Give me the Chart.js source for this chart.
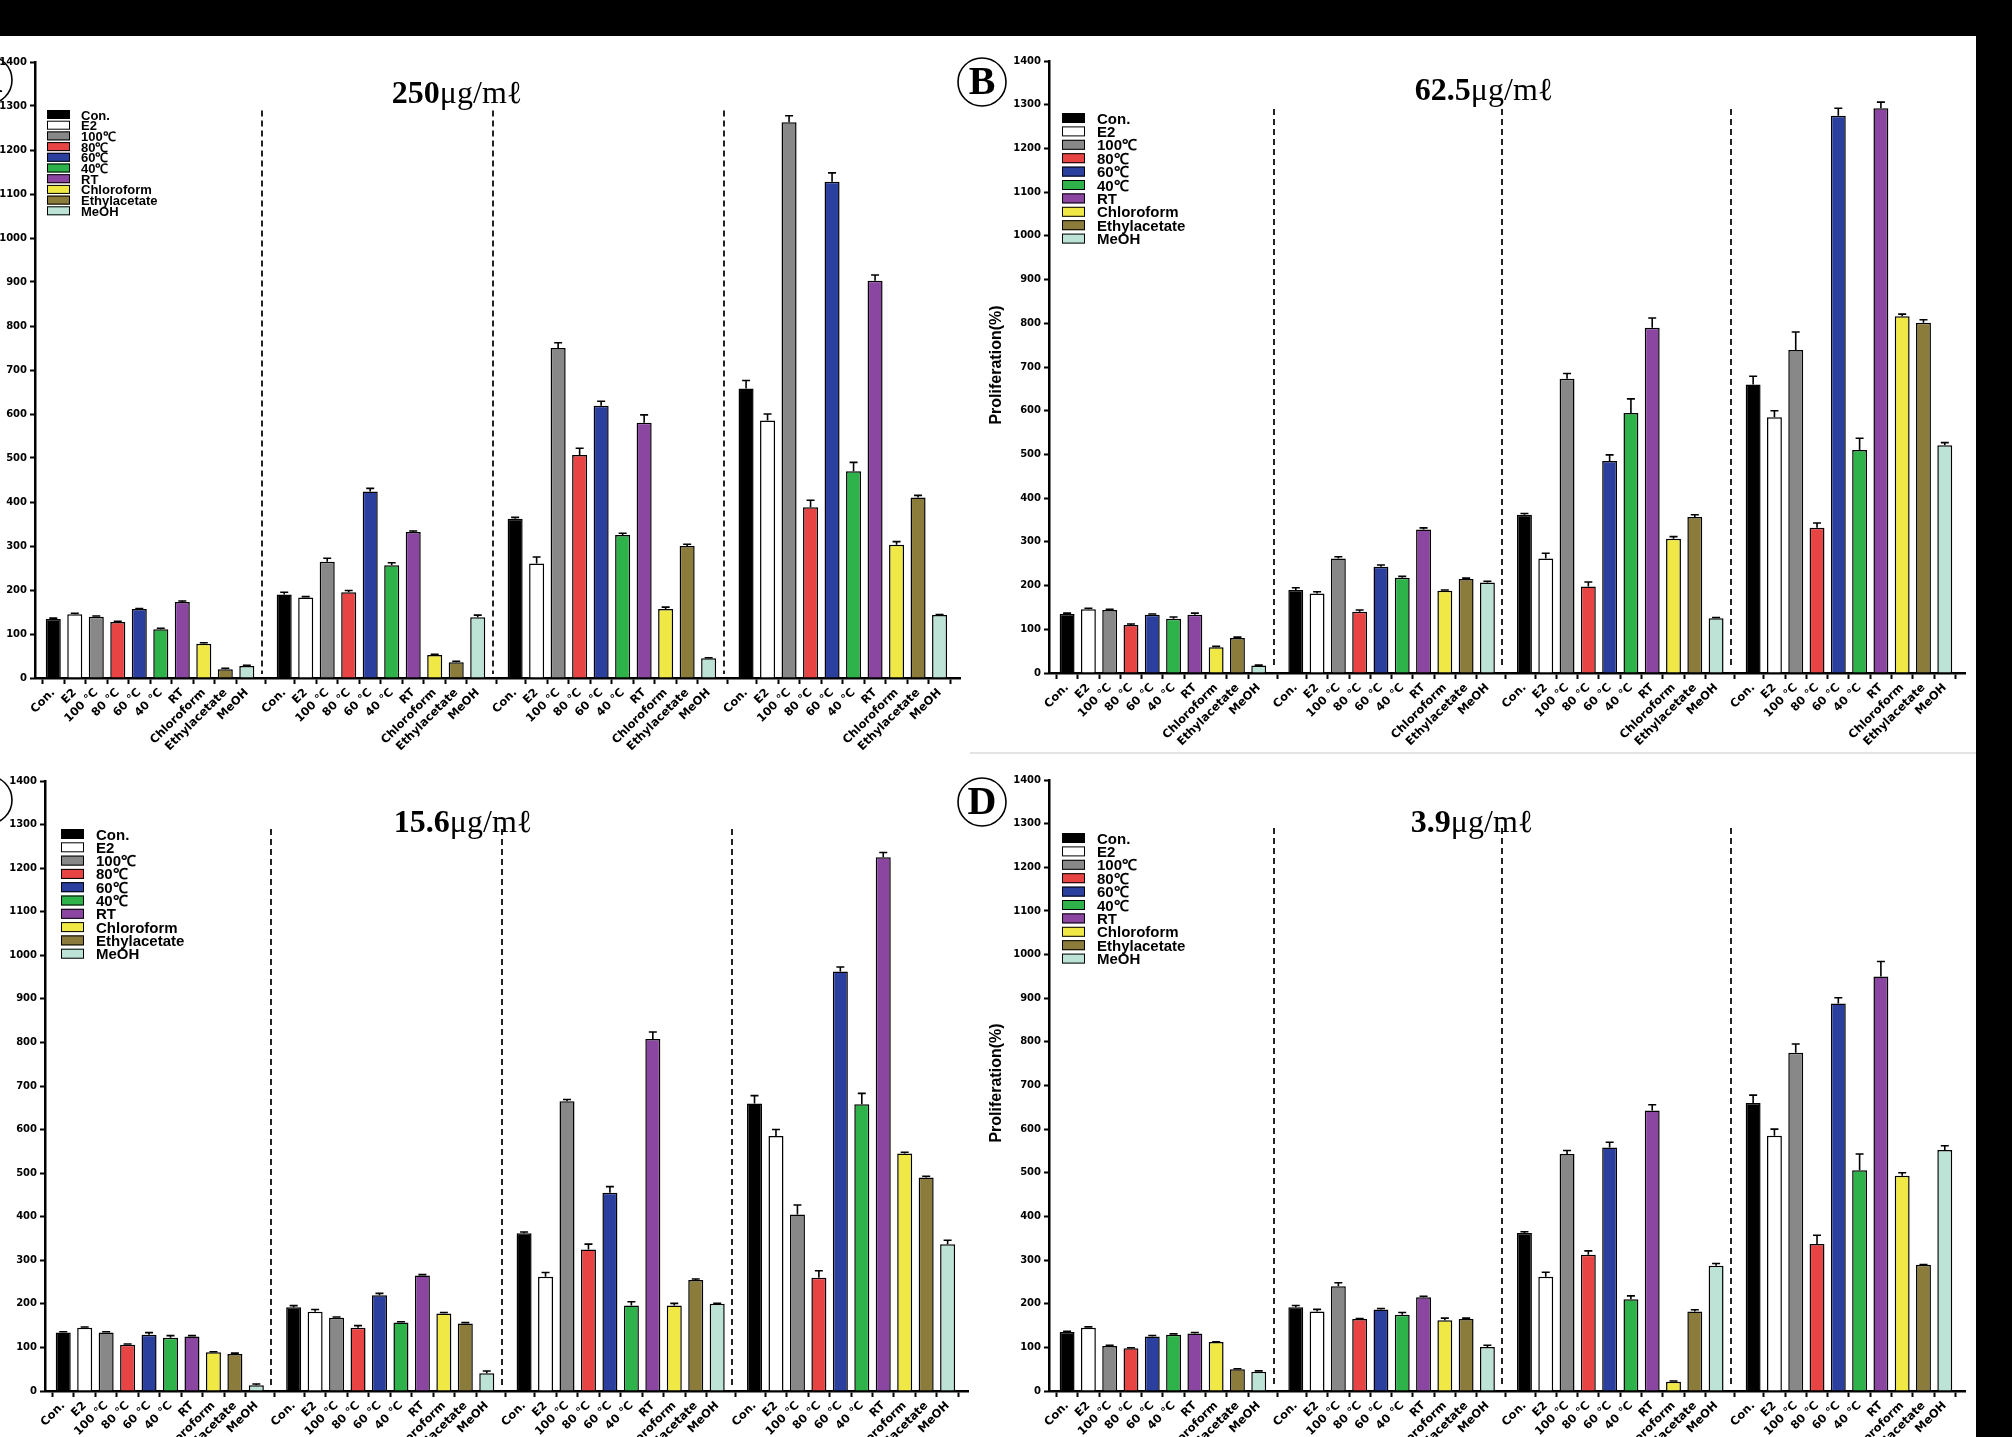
<!DOCTYPE html>
<html>
<head>
<meta charset="utf-8">
<script src="https://cdn.jsdelivr.net/npm/chart.js@4.4.0/dist/chart.umd.min.js"></script>
<style>
    html, body { margin: 0; padding: 0; background: #fff; }
    body { width: 2012px; height: 1437px; position: relative; overflow: hidden; }
    canvas { position: absolute; }
    #topbar { position: absolute; left: 0; top: 0; width: 2012px; height: 36px; background: #000; z-index: 5; }
    #rightbar { position: absolute; left: 1976px; top: 0; width: 36px; height: 1437px; background: #000; z-index: 5; }
    #divider { position: absolute; left: 970px; top: 752px; width: 1006px; height: 2px; background: #e4e4e4; z-index: 4; }
</style>
</head>
<body>
<div id="topbar"></div>
<div id="rightbar"></div>
<div id="divider"></div>
<canvas id="chartA"></canvas>
<canvas id="chartB"></canvas>
<canvas id="chartC"></canvas>
<canvas id="chartD"></canvas>
<script>
const tickLabels = ['Con.', 'E2', '100 ℃', '80 ℃', '60 ℃', '40 ℃', 'RT', 'Chloroform', 'Ethylacetate', 'MeOH'];
const legendLabels = ['Con.', 'E2', '100℃', '80℃', '60℃', '40℃', 'RT', 'Chloroform', 'Ethylacetate', 'MeOH'];
const barColors = ['#000000', '#ffffff', '#888888', '#e84444', '#2b3f9e', '#2eb24a', '#8b46a2', '#f0e845', '#8b7c3b', '#bde3d6'];

// 250 ug/ml
const valuesA = [
    [134, 145, 139, 127, 157, 111, 173, 78, 20, 27],
    [190, 183, 264, 195, 424, 256, 332, 52, 36, 138],
    [362, 260, 750, 507, 619, 325, 580, 157, 300, 45],
    [658, 585, 1263, 388, 1128, 470, 903, 303, 410, 143]
];
const errorsA = [
    [2, 2, 2, 2, 1, 2, 2, 2, 2, 2],
    [5, 2, 8, 4, 7, 6, 2, 2, 2, 5],
    [3, 15, 12, 15, 10, 4, 18, 4, 4, 1],
    [18, 15, 15, 16, 20, 20, 13, 7, 5, 1]
];

// 62.5 ug/ml
const valuesB = [
    [135, 146, 144, 110, 133, 124, 133, 59, 80, 17],
    [190, 182, 262, 140, 243, 218, 328, 188, 215, 207],
    [362, 262, 673, 198, 485, 595, 790, 307, 357, 125],
    [660, 585, 739, 332, 1275, 510, 1292, 816, 801, 521]
];
const errorsB = [
    [2, 2, 2, 2, 2, 4, 4, 2, 2, 1],
    [5, 4, 4, 4, 4, 3, 4, 2, 2, 3],
    [3, 12, 12, 10, 14, 32, 22, 5, 5, 2],
    [19, 15, 41, 11, 17, 27, 14, 5, 7, 6]
];

// 15.6 ug/ml
const valuesC = [
    [134, 145, 134, 106, 129, 122, 125, 89, 85, 13],
    [192, 182, 168, 145, 220, 157, 265, 178, 155, 41],
    [362, 262, 665, 325, 455, 196, 808, 196, 255, 200],
    [660, 585, 405, 260, 963, 658, 1225, 545, 490, 337]
];
const errorsC = [
    [2, 2, 2, 2, 5, 5, 2, 1, 2, 3],
    [4, 5, 2, 5, 4, 2, 2, 2, 2, 5],
    [3, 10, 4, 12, 14, 9, 16, 5, 2, 1],
    [18, 15, 22, 16, 10, 25, 11, 3, 3, 9]
];

// 3.9 ug/ml
const valuesD = [
    [135, 145, 103, 98, 125, 129, 132, 112, 50, 44],
    [192, 182, 240, 165, 187, 175, 215, 162, 165, 101],
    [362, 262, 543, 312, 558, 210, 643, 21, 182, 287],
    [660, 585, 775, 337, 888, 506, 950, 493, 289, 552]
];
const errorsD = [
    [2, 2, 2, 1, 2, 2, 2, 1, 1, 2],
    [4, 5, 8, 1, 2, 5, 2, 5, 2, 4],
    [3, 10, 8, 9, 12, 8, 13, 2, 4, 5],
    [18, 15, 20, 20, 13, 37, 34, 7, 1, 10]
];

const GROUP_GAP = 0.74;
const SEP_OFFSET = 0.7;
const X_MIN = -0.85;
const X_MAX = 39 + 3 * GROUP_GAP + 0.95;
const Y_W = 99, X_H = 80, PAD_TOP = 25, PAD_RIGHT = 11;

const panels = [
    { id: 'chartA', letter: 'A', conc: '250', values: valuesA, errors: errorsA,
      axisX: 35, topY: 62, zeroY: 678, rightX: 960,
      circle: [-12, 80], yTitle: [-17, 370], title: [457, 103],
      legend: { x: 47, y: 110, pitch: 10.7, boxH: 9, font: 13, textX: 81 } },
    { id: 'chartB', letter: 'B', conc: '62.5', values: valuesB, errors: errorsB,
      axisX: 1049, topY: 61, zeroY: 673, rightX: 1965,
      circle: [982, 82], yTitle: [997, 365], title: [1484, 100],
      legend: { x: 1062, y: 113, pitch: 13.4, boxH: 10, font: 15, textX: 1097 } },
    { id: 'chartC', letter: 'C', conc: '15.6', values: valuesC, errors: errorsC,
      axisX: 45, topY: 781, zeroY: 1391, rightX: 968,
      circle: [-12, 800], yTitle: [-7, 1083], title: [463, 832],
      legend: { x: 61, y: 829, pitch: 13.3, boxH: 10, font: 15, textX: 96 } },
    { id: 'chartD', letter: 'D', conc: '3.9', values: valuesD, errors: errorsD,
      axisX: 1049, topY: 780, zeroY: 1391, rightX: 1965,
      circle: [982, 802], yTitle: [997, 1083], title: [1472, 832],
      legend: { x: 1062, y: 833, pitch: 13.4, boxH: 10, font: 15, textX: 1097 } }
];

function barPos(group, i) {
    return group * (10 + GROUP_GAP) + i;
}

const tickPositions = [];
for (let g = 0; g < 4; g++) {
    for (let i = 0; i < 10; i++) tickPositions.push(barPos(g, i));
}

function makeOverlay(p) {
    const ox = p.axisX - Y_W;
    const oy = p.topY - PAD_TOP;
    const flatValues = p.values.flat();
    const flatErrors = p.errors.flat();

    return {
        id: 'overlay' + p.letter,
        afterDatasetsDraw(chart) {
            const ctx = chart.ctx;
            const xs = chart.scales.x;
            const ys = chart.scales.y;
            const meta = chart.getDatasetMeta(0);

            // error bars, upper half only
            ctx.save();
            ctx.strokeStyle = '#000';
            ctx.lineWidth = 1.6;
            meta.data.forEach((bar, k) => {
                const top = ys.getPixelForValue(flatValues[k] + flatErrors[k]);
                ctx.beginPath();
                ctx.moveTo(bar.x, bar.y);
                ctx.lineTo(bar.x, top);
                ctx.moveTo(bar.x - 4, top);
                ctx.lineTo(bar.x + 4, top);
                ctx.stroke();
            });
            ctx.restore();

            // dashed separators between concentration groups
            ctx.save();
            ctx.strokeStyle = '#222';
            ctx.lineWidth = 2;
            ctx.setLineDash([6, 4]);
            for (let g = 0; g < 3; g++) {
                const px = Math.round(xs.getPixelForValue(barPos(g, 9) + SEP_OFFSET));
                ctx.beginPath();
                ctx.moveTo(px, ys.getPixelForValue(1290));
                ctx.lineTo(px, ys.getPixelForValue(0) - 4);
                ctx.stroke();
            }
            ctx.restore();
        },
        afterDraw(chart) {
            const ctx = chart.ctx;
            ctx.save();
            ctx.fillStyle = '#000';
            ctx.strokeStyle = '#000';

            // concentration title
            const boldFont = 'bold 32px "Liberation Serif", "Times New Roman", serif';
            const normFont = '32px "Liberation Serif", "Times New Roman", serif';
            const unit = 'μg/mℓ';
            ctx.font = boldFont;
            const w1 = ctx.measureText(p.conc).width;
            ctx.font = normFont;
            const w2 = ctx.measureText(unit).width;
            const tx = p.title[0] - ox - (w1 + w2) / 2;
            const ty = p.title[1] - oy;
            ctx.textBaseline = 'alphabetic';
            ctx.textAlign = 'left';
            ctx.font = boldFont;
            ctx.fillText(p.conc, tx, ty);
            ctx.font = normFont;
            ctx.fillText(unit, tx + w1, ty);

            // panel letter in a circle
            ctx.lineWidth = 1.6;
            ctx.beginPath();
            ctx.arc(p.circle[0] - ox, p.circle[1] - oy, 24, 0, Math.PI * 2);
            ctx.stroke();
            ctx.font = 'bold 40px "Liberation Serif", "Times New Roman", serif';
            ctx.textAlign = 'center';
            ctx.textBaseline = 'middle';
            ctx.fillText(p.letter, p.circle[0] - ox, p.circle[1] - oy + 2);

            // y axis title
            ctx.save();
            ctx.translate(p.yTitle[0] - ox, p.yTitle[1] - oy);
            ctx.rotate(-Math.PI / 2);
            ctx.font = 'bold 16px "Liberation Sans", Arial, sans-serif';
            ctx.fillText('Proliferation(%)', 0, 0);
            ctx.restore();

            // legend
            const lg = p.legend;
            ctx.textAlign = 'left';
            ctx.textBaseline = 'alphabetic';
            ctx.font = 'bold ' + lg.font + 'px "Liberation Sans", Arial, sans-serif';
            ctx.lineWidth = 1;
            legendLabels.forEach((label, i) => {
                const by = lg.y + i * lg.pitch - oy;
                const bx = lg.x - ox;
                ctx.fillStyle = barColors[i];
                ctx.fillRect(bx, by, 23, lg.boxH);
                ctx.strokeStyle = '#000';
                ctx.strokeRect(bx + 0.5, by + 0.5, 22, lg.boxH - 1);
                ctx.fillStyle = '#000';
                ctx.fillText(label, lg.textX - ox, by + lg.boxH + 0.5);
            });
            ctx.restore();
        }
    };
}

function renderPanel(p) {
    const canvas = document.getElementById(p.id);
    const left = p.axisX - Y_W;
    const top = p.topY - PAD_TOP;
    canvas.width = p.rightX + PAD_RIGHT - left;
    canvas.height = p.zeroY + X_H - top;
    canvas.style.left = left + 'px';
    canvas.style.top = top + 'px';

    const flatValues = p.values.flat();
    const points = flatValues.map((v, k) => ({ x: barPos(Math.floor(k / 10), k % 10), y: v }));

    new Chart(canvas, {
        type: 'bar',
        data: {
            datasets: [{
                data: points,
                backgroundColor: flatValues.map((v, k) => barColors[k % 10]),
                borderColor: '#000',
                borderWidth: 1.5,
                barPercentage: 0.7,
                categoryPercentage: 1
            }]
        },
        options: {
            responsive: false,
            animation: false,
            devicePixelRatio: 1,
            layout: { padding: { left: 0, top: PAD_TOP, right: PAD_RIGHT, bottom: 0 } },
            plugins: {
                legend: { display: false },
                tooltip: { enabled: false }
            },
            scales: {
                x: {
                    type: 'linear',
                    min: X_MIN,
                    max: X_MAX,
                    offset: false,
                    afterBuildTicks: scale => { scale.ticks = tickPositions.map(v => ({ value: v })); },
                    afterFit: scale => { scale.height = X_H; },
                    ticks: {
                        autoSkip: false,
                        minRotation: 45,
                        maxRotation: 45,
                        padding: 2,
                        color: '#000',
                        font: { family: '"DejaVu Sans", sans-serif', size: 11.5, weight: 'bold' },
                        callback: (value, index) => tickLabels[index % 10]
                    },
                    grid: { drawOnChartArea: false, tickLength: 6, tickWidth: 2, tickColor: '#000' },
                    border: { color: '#000', width: 2.5 }
                },
                y: {
                    min: 0,
                    max: 1400,
                    afterFit: scale => { scale.width = Y_W; },
                    ticks: {
                        stepSize: 100,
                        padding: 3,
                        color: '#000',
                        font: { family: '"DejaVu Sans", sans-serif', size: 10, weight: 'bold' },
                        callback: value => String(value)
                    },
                    grid: { drawOnChartArea: false, tickLength: 5, tickWidth: 2, tickColor: '#000' },
                    border: { color: '#000', width: 2.5 }
                }
            }
        },
        plugins: [makeOverlay(p)]
    });
}

panels.forEach(renderPanel);
</script>
</body>
</html>
